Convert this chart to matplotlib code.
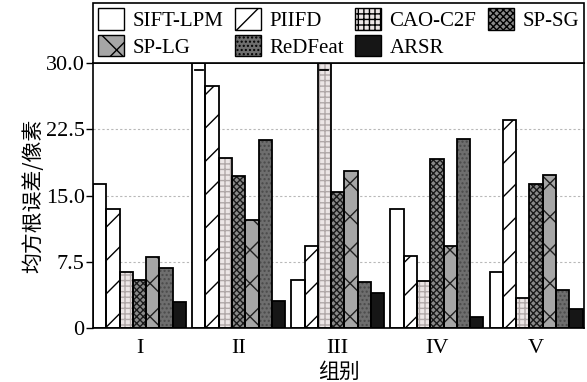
import numpy as np
import matplotlib
matplotlib.use("Agg")
import matplotlib.pyplot as plt
from matplotlib.patches import Patch

groups = ["I", "II", "III", "IV", "V"]
methods = ["SIFT-LPM", "PIIFD", "CAO-C2F", "SP-SG", "SP-LG", "ReDFeat", "ARSR"]

sift_lpm = [16.3, 32.0, 5.4, 13.5, 6.3]
piifd = [13.5, 27.4, 9.3, 8.2, 23.5]
cao_c2f = [6.3, 19.2, 32.0, 5.3, 3.4]
sp_sg = [5.4, 17.2, 15.4, 19.1, 16.3]
sp_lg = [8.0, 12.2, 17.8, 9.3, 17.3]
redfeat = [6.8, 21.3, 5.2, 21.4, 4.3]
arsr = [2.9, 3.0, 4.0, 1.3, 2.2]

yticks = [0, 7.5, 15.0, 22.5, 30.0]
ytick_labels = ["0", "7.5", "15.0", "22.5", "30.0"]

# face, hatch, hatch colour
styles = [
    ("white", "", "black"),
    ("white", "/", "black"),
    ("#ece6e6", "+++", "#b0a8a8"),
    ("#8a8a8a", "xxxxx", "#1a1a1a"),
    ("#a6a6a6", "x", "#202020"),
    ("#6e6e6e", "....", "#4a4a4a"),
    ("#161616", "", "#161616"),
]

plt.rcParams["font.family"] = ["Liberation Serif"]
plt.rcParams["hatch.linewidth"] = 1.0

fig = plt.figure(figsize=(5.87, 3.82), dpi=100)
ax = fig.add_axes([0.1584, 0.1414, 0.8365, 0.6936])

data = [sift_lpm, piifd, cao_c2f, sp_sg, sp_lg, redfeat, arsr]
x = np.arange(len(groups))
w = 0.134
ymax = 30.0

for gy in [7.5, 15.0, 22.5]:
    ax.axhline(gy, color="#b8b8b8", lw=0.8, ls=(0, (2, 2)), zorder=0)

handles = []
for k, vals in enumerate(data):
    face, hatch, hc = styles[k]
    pos = x + (k - 3) * w
    h = np.minimum(vals, ymax)
    ax.bar(pos, h, w, color=face, hatch=hatch, edgecolor=hc, linewidth=0, zorder=2)
    ax.bar(pos, h, w, facecolor="none", edgecolor="black", linewidth=1.3, zorder=3)
    # break mark on clipped bars
    for p, v in zip(pos, vals):
        if v > ymax:
            ax.plot([p - w * 0.3, p + w * 0.3], [29.2, 29.2], color="black", lw=1.3, zorder=4)
    handles.append(Patch(facecolor=face, hatch=hatch, edgecolor="black", linewidth=1.0))

ax.set_xlim(-3.5 * w, 4 + 3.5 * w + 0.015)
ax.set_ylim(0, ymax)
ax.set_yticks(yticks)
ax.set_yticklabels(ytick_labels)
ax.set_xticks(x)
ax.set_xticklabels(groups)
ax.tick_params(axis="y", direction="out", length=5, width=1, labelsize=16, pad=1)
ax.tick_params(axis="x", length=0, labelsize=16, pad=8)
for s in ax.spines.values():
    s.set_linewidth(1.2)

ax.set_ylabel("均方根误差/像素", family=["Noto Sans CJK SC"], fontsize=15, labelpad=1)
ax.set_xlabel("组别", family=["Noto Sans CJK SC"], fontsize=15, labelpad=2)

order = [0, 4, 1, 5, 2, 6, 3]
leg = ax.legend([handles[i] for i in order], [methods[i] for i in order],
                ncol=4, loc="lower left", bbox_to_anchor=(0, 1.0, 1.0, 0.226),
                mode="expand", borderaxespad=0, fancybox=False, framealpha=1,
                edgecolor="black", fontsize=15, handlelength=1.25, handleheight=1.2,
                handletextpad=0.4, columnspacing=0.8, labelspacing=0.2,
                borderpad=0.25)
leg.get_frame().set_linewidth(1.2)

fig.savefig("out.png", dpi=100)
